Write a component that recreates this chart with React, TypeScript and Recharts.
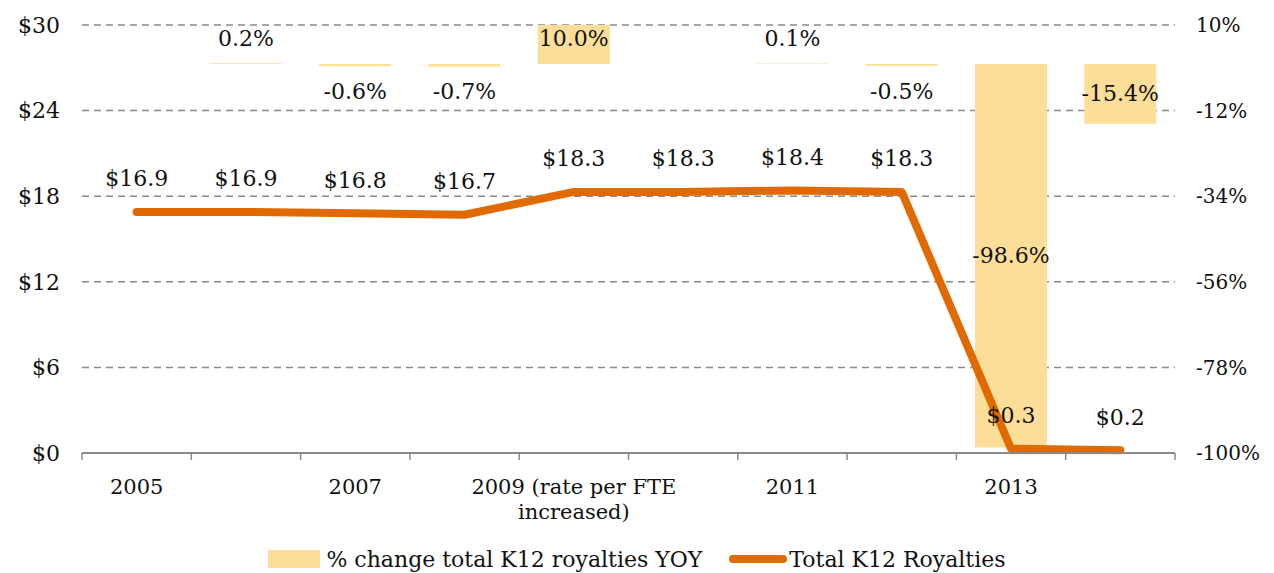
import { ComposedChart, Bar, Line, XAxis, YAxis, CartesianGrid, Legend, LabelList } from 'recharts';

const years = ['2005', '2006', '2007', '2008', '2009 (rate per FTE\nincreased)', '2010', '2011', '2012', '2013', '2014'];
const totalRoyalties = [16.9, 16.9, 16.8, 16.7, 18.3, 18.3, 18.4, 18.3, 0.3, 0.2];
const yoyChange = [null, 0.2, -0.6, -0.7, 10.0, 0.0, 0.1, -0.5, -98.6, -15.4];
const dollarTicks = [0, 6, 12, 18, 24, 30];
const pctTicks = [10, -12, -34, -56, -78, -100];

const FONT = '"DejaVu Serif", "Liberation Serif", serif';
const FS = 22;
const BAR_COLOR = '#FDDE98';
const LINE_COLOR = '#E06A00';
const GRID_COLOR = '#8a8a8a';

const WIDTH = 1258;
const HEIGHT = 565;
const LEFT_AXIS_W = 74;
const RIGHT_AXIS_W = 91;
const BAND = (WIDTH - LEFT_AXIS_W - RIGHT_AXIS_W) / years.length;

const chartData = years.map((year, i) => ({
  year,
  total: totalRoyalties[i],
  change: yoyChange[i],
}));

function XTick(props: any) {
  const { x, y, payload, index } = props;
  const lines = String(payload.value).split('\n');
  const half = BAND / 2;
  return (
    <g>
      <line x1={x - half} x2={x - half} y1={y} y2={y + 7} stroke={GRID_COLOR} strokeWidth={1.5} />
      {index === years.length - 1 && (
        <line x1={x + half} x2={x + half} y1={y} y2={y + 7} stroke={GRID_COLOR} strokeWidth={1.5} />
      )}
      {index % 2 === 0 &&
        lines.map((t, k) => (
          <text key={k} x={x} y={y + 41 + k * 25} textAnchor="middle" fontFamily={FONT} fontSize={21} fill="#111">
            {t}
          </text>
        ))}
    </g>
  );
}

function BarValueLabel(props: any) {
  const { x, y, width, height, value } = props;
  if (value === null || value === undefined) return null;
  const top = Math.min(y, y + height);
  const bottom = Math.max(y, y + height);
  const zeroY = value > 0 ? bottom : top;
  let cy = (top + bottom) / 2;
  if (bottom - top < 45) cy = value > 0 ? zeroY - 25 : zeroY + 28;
  return (
    <text x={x + width / 2} y={cy} textAnchor="middle" dominantBaseline="central" fontFamily={FONT} fontSize={FS} fill="#111">
      {Number(value).toFixed(1)}%
    </text>
  );
}

function LineValueLabel(props: any) {
  const { x, y, value } = props;
  return (
    <text x={x} y={y - 33} textAnchor="middle" dominantBaseline="central" fontFamily={FONT} fontSize={FS} fill="#111">
      ${Number(value).toFixed(1)}
    </text>
  );
}

function LegendContent() {
  return (
    <div style={{ display: 'flex', justifyContent: 'center', alignItems: 'center', height: 28, paddingTop: 4, fontFamily: FONT, fontSize: FS, color: '#111', whiteSpace: 'nowrap' }}>
      <span style={{ display: 'inline-block', width: 52, height: 18, background: BAR_COLOR, marginRight: 6 }} />
      <span style={{ marginRight: 27 }}>% change total K12 royalties YOY</span>
      <span style={{ display: 'inline-block', width: 58, height: 8, borderRadius: 4, background: LINE_COLOR, marginRight: 2 }} />
      <span>Total K12 Royalties</span>
    </div>
  );
}

export default function App() {
  return (
    <ComposedChart width={WIDTH} height={HEIGHT} data={chartData} margin={{ top: 17, right: 0, bottom: 0, left: 0 }} barCategoryGap="17%">
      <CartesianGrid yAxisId="usd" vertical={false} stroke={GRID_COLOR} strokeDasharray="7 5" strokeWidth={1.5} />
      <XAxis
        dataKey="year"
        interval={0}
        height={88}
        tickSize={0}
        tickMargin={0}
        tickLine={false}
        axisLine={{ stroke: GRID_COLOR, strokeWidth: 2 }}
        tick={<XTick />}
      />
      <YAxis
        yAxisId="usd"
        domain={[0, 30]}
        ticks={dollarTicks}
        interval={0}
        width={LEFT_AXIS_W}
        axisLine={false}
        tickLine={false}
        tickSize={0}
        tickMargin={22}
        tickFormatter={(v: number) => `$${v}`}
        tick={{ fontFamily: FONT, fontSize: FS, fill: '#111' }}
      />
      <YAxis
        yAxisId="pct"
        orientation="right"
        domain={[-100, 10]}
        ticks={pctTicks}
        interval={0}
        width={RIGHT_AXIS_W}
        axisLine={false}
        tickLine={false}
        tickSize={0}
        tickMargin={21}
        tickFormatter={(v: number) => `${v}%`}
        tick={{ fontFamily: FONT, fontSize: 20, fill: '#111', textAnchor: 'start' }}
      />
      <Legend verticalAlign="bottom" content={<LegendContent />} />
      <Bar yAxisId="pct" dataKey="change" name="% change total K12 royalties YOY" fill={BAR_COLOR} isAnimationActive={false}>
        <LabelList dataKey="change" content={<BarValueLabel />} />
      </Bar>
      <Line
        yAxisId="usd"
        type="linear"
        dataKey="total"
        name="Total K12 Royalties"
        stroke={LINE_COLOR}
        strokeWidth={8}
        strokeLinecap="round"
        strokeLinejoin="round"
        dot={false}
        activeDot={false}
        isAnimationActive={false}
      >
        <LabelList dataKey="total" content={<LineValueLabel />} />
      </Line>
    </ComposedChart>
  );
}
